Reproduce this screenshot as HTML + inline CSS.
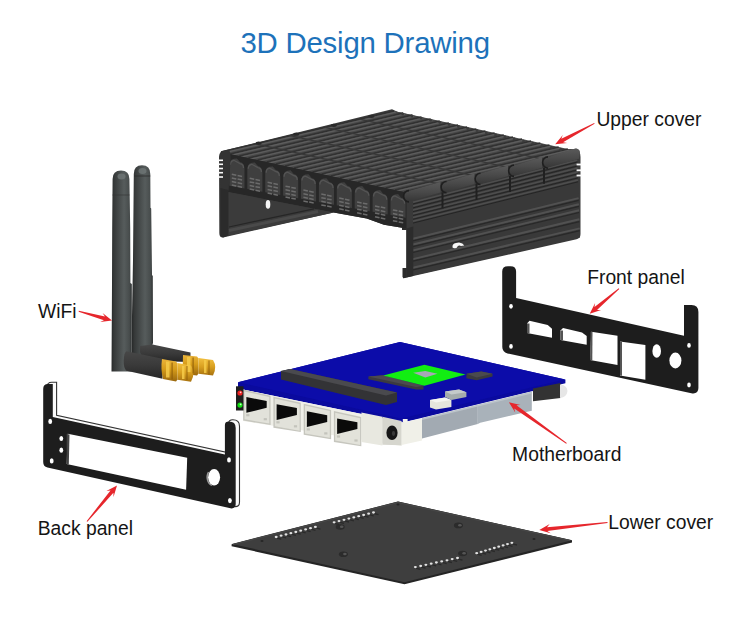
<!DOCTYPE html>
<html><head><meta charset="utf-8"><style>
html,body{margin:0;padding:0;background:#fff;}
body{width:750px;height:631px;overflow:hidden;position:relative;font-family:"Liberation Sans",sans-serif;}
svg{position:absolute;left:0;top:0;}
.t{position:absolute;white-space:nowrap;color:#141414;font-size:19.3px;line-height:1;}
#title{position:absolute;left:240.4px;top:27.9px;font-size:29.4px;letter-spacing:-0.22px;color:#1d72ba;white-space:nowrap;line-height:1;}
</style></head><body>
<svg width="750" height="631" viewBox="0 0 750 631">
<defs>
<linearGradient id="ant" x1="0" x2="1" y1="0" y2="0"><stop offset="0" stop-color="#282a2a"/><stop offset="0.12" stop-color="#363939"/><stop offset="0.62" stop-color="#565c5c"/><stop offset="0.88" stop-color="#474c4c"/><stop offset="1" stop-color="#303333"/></linearGradient>
<linearGradient id="elb" x1="0" x2="0" y1="0" y2="1"><stop offset="0" stop-color="#474747"/><stop offset="0.5" stop-color="#3a3a3a"/><stop offset="1" stop-color="#262626"/></linearGradient>
<linearGradient id="gold" x1="0" x2="0" y1="0" y2="1"><stop offset="0" stop-color="#eab33a"/><stop offset="0.45" stop-color="#d69c1a"/><stop offset="1" stop-color="#9a680e"/></linearGradient>
<linearGradient id="gold2" x1="0" x2="0" y1="0" y2="1"><stop offset="0" stop-color="#f2c040"/><stop offset="0.5" stop-color="#d9a020"/><stop offset="1" stop-color="#a8720f"/></linearGradient>
<linearGradient id="hump" x1="0" x2="0" y1="0" y2="1"><stop offset="0" stop-color="#5a5a5a"/><stop offset="0.5" stop-color="#4a4a4a"/><stop offset="1" stop-color="#363636"/></linearGradient>
</defs>
<g id="upper">
<path d="M219,157 Q219,151 225,150.3 L392,109.3 L398,112 L561,148.8 L575,149.2 Q580.5,150 580.5,157 L580.5,234 Q580.5,238.5 576.5,239.2 L406.5,277.5 L403.5,278.3 L402.7,277 L402.7,268 L406.5,268 L406.5,230 L402,230 L402,227.8 L384,224.7 L366.7,218.6 L333.7,212.5 L223,237.5 Q219.3,237.5 219.3,233 Z" fill="#3a3a3a"/>
<polygon points="221.0,152.0 394.0,111.0 577.0,151.0 404.0,192.0" fill="#484848" />
<line x1="221.0" y1="152.0" x2="394.0" y2="111.0" stroke="#313131" stroke-width="1.5"/>
<line x1="222.8" y1="153.2" x2="395.8" y2="112.2" stroke="#5d5d5d" stroke-width="1.3"/>
<line x1="230.2" y1="154.0" x2="403.1" y2="113.0" stroke="#313131" stroke-width="1.5"/>
<line x1="232.0" y1="155.2" x2="404.9" y2="114.2" stroke="#5d5d5d" stroke-width="1.3"/>
<line x1="239.3" y1="156.0" x2="412.3" y2="115.0" stroke="#313131" stroke-width="1.5"/>
<line x1="241.1" y1="157.2" x2="414.1" y2="116.2" stroke="#5d5d5d" stroke-width="1.3"/>
<line x1="248.4" y1="158.0" x2="421.4" y2="117.0" stroke="#313131" stroke-width="1.5"/>
<line x1="250.2" y1="159.2" x2="423.2" y2="118.2" stroke="#5d5d5d" stroke-width="1.3"/>
<line x1="257.6" y1="160.0" x2="430.6" y2="119.0" stroke="#313131" stroke-width="1.5"/>
<line x1="259.4" y1="161.2" x2="432.4" y2="120.2" stroke="#5d5d5d" stroke-width="1.3"/>
<line x1="266.8" y1="162.0" x2="439.8" y2="121.0" stroke="#313131" stroke-width="1.5"/>
<line x1="268.6" y1="163.2" x2="441.6" y2="122.2" stroke="#5d5d5d" stroke-width="1.3"/>
<line x1="275.9" y1="164.0" x2="448.9" y2="123.0" stroke="#313131" stroke-width="1.5"/>
<line x1="277.7" y1="165.2" x2="450.7" y2="124.2" stroke="#5d5d5d" stroke-width="1.3"/>
<line x1="285.1" y1="166.0" x2="458.1" y2="125.0" stroke="#313131" stroke-width="1.5"/>
<line x1="286.9" y1="167.2" x2="459.9" y2="126.2" stroke="#5d5d5d" stroke-width="1.3"/>
<line x1="294.2" y1="168.0" x2="467.2" y2="127.0" stroke="#313131" stroke-width="1.5"/>
<line x1="296.0" y1="169.2" x2="469.0" y2="128.2" stroke="#5d5d5d" stroke-width="1.3"/>
<line x1="303.4" y1="170.0" x2="476.4" y2="129.0" stroke="#313131" stroke-width="1.5"/>
<line x1="305.2" y1="171.2" x2="478.2" y2="130.2" stroke="#5d5d5d" stroke-width="1.3"/>
<line x1="312.5" y1="172.0" x2="485.5" y2="131.0" stroke="#313131" stroke-width="1.5"/>
<line x1="314.3" y1="173.2" x2="487.3" y2="132.2" stroke="#5d5d5d" stroke-width="1.3"/>
<line x1="321.6" y1="174.0" x2="494.6" y2="133.0" stroke="#313131" stroke-width="1.5"/>
<line x1="323.4" y1="175.2" x2="496.4" y2="134.2" stroke="#5d5d5d" stroke-width="1.3"/>
<line x1="330.8" y1="176.0" x2="503.8" y2="135.0" stroke="#313131" stroke-width="1.5"/>
<line x1="332.6" y1="177.2" x2="505.6" y2="136.2" stroke="#5d5d5d" stroke-width="1.3"/>
<line x1="339.9" y1="178.0" x2="513.0" y2="137.0" stroke="#313131" stroke-width="1.5"/>
<line x1="341.8" y1="179.2" x2="514.8" y2="138.2" stroke="#5d5d5d" stroke-width="1.3"/>
<line x1="349.1" y1="180.0" x2="522.1" y2="139.0" stroke="#313131" stroke-width="1.5"/>
<line x1="350.9" y1="181.2" x2="523.9" y2="140.2" stroke="#5d5d5d" stroke-width="1.3"/>
<line x1="358.2" y1="182.0" x2="531.2" y2="141.0" stroke="#313131" stroke-width="1.5"/>
<line x1="360.1" y1="183.2" x2="533.0" y2="142.2" stroke="#5d5d5d" stroke-width="1.3"/>
<line x1="367.4" y1="184.0" x2="540.4" y2="143.0" stroke="#313131" stroke-width="1.5"/>
<line x1="369.2" y1="185.2" x2="542.2" y2="144.2" stroke="#5d5d5d" stroke-width="1.3"/>
<line x1="376.5" y1="186.0" x2="549.5" y2="145.0" stroke="#313131" stroke-width="1.5"/>
<line x1="378.3" y1="187.2" x2="551.3" y2="146.2" stroke="#5d5d5d" stroke-width="1.3"/>
<line x1="385.7" y1="188.0" x2="558.7" y2="147.0" stroke="#313131" stroke-width="1.5"/>
<line x1="387.5" y1="189.2" x2="560.5" y2="148.2" stroke="#5d5d5d" stroke-width="1.3"/>
<line x1="394.9" y1="190.0" x2="567.9" y2="149.0" stroke="#313131" stroke-width="1.5"/>
<line x1="396.7" y1="191.2" x2="569.6" y2="150.2" stroke="#5d5d5d" stroke-width="1.3"/>
<line x1="404.0" y1="192.0" x2="577.0" y2="151.0" stroke="#313131" stroke-width="1.5"/>
<line x1="405.8" y1="193.2" x2="578.8" y2="152.2" stroke="#5d5d5d" stroke-width="1.3"/>
<circle cx="402.6" cy="113.9" r="1.4" fill="#3c3c3c"/>
<circle cx="411.9" cy="116.0" r="1.4" fill="#3c3c3c"/>
<circle cx="421.2" cy="118.1" r="1.4" fill="#3c3c3c"/>
<circle cx="430.5" cy="120.2" r="1.4" fill="#3c3c3c"/>
<circle cx="439.8" cy="122.3" r="1.4" fill="#3c3c3c"/>
<circle cx="449.1" cy="124.4" r="1.4" fill="#3c3c3c"/>
<circle cx="458.4" cy="126.5" r="1.4" fill="#3c3c3c"/>
<circle cx="467.7" cy="128.6" r="1.4" fill="#3c3c3c"/>
<circle cx="477.0" cy="130.7" r="1.4" fill="#3c3c3c"/>
<circle cx="486.3" cy="132.8" r="1.4" fill="#3c3c3c"/>
<circle cx="495.6" cy="134.9" r="1.4" fill="#3c3c3c"/>
<circle cx="504.9" cy="137.0" r="1.4" fill="#3c3c3c"/>
<circle cx="514.2" cy="139.0" r="1.4" fill="#3c3c3c"/>
<circle cx="523.5" cy="141.1" r="1.4" fill="#3c3c3c"/>
<circle cx="532.8" cy="143.2" r="1.4" fill="#3c3c3c"/>
<circle cx="542.1" cy="145.3" r="1.4" fill="#3c3c3c"/>
<circle cx="551.4" cy="147.4" r="1.4" fill="#3c3c3c"/>
<circle cx="560.7" cy="149.5" r="1.4" fill="#3c3c3c"/>
<line x1="255.6" y1="143.8" x2="438.6" y2="183.8" stroke="#383838" stroke-width="1.2"/>
<line x1="290.2" y1="135.6" x2="473.2" y2="175.6" stroke="#383838" stroke-width="1.2"/>
<line x1="324.8" y1="127.4" x2="507.8" y2="167.4" stroke="#383838" stroke-width="1.2"/>
<line x1="359.4" y1="119.2" x2="542.4" y2="159.2" stroke="#383838" stroke-width="1.2"/>
<ellipse cx="258.6" cy="143.1" rx="3" ry="1.6" fill="#2a2a2a"/>
<ellipse cx="296.2" cy="134.2" rx="3" ry="1.6" fill="#2a2a2a"/>
<ellipse cx="333.8" cy="125.3" rx="3" ry="1.6" fill="#2a2a2a"/>
<ellipse cx="371.4" cy="116.3" rx="3" ry="1.6" fill="#2a2a2a"/>
<polygon points="221.0,152.0 404.0,192.0 407.0,196.0 407.0,228.5 402.0,227.8 384.0,224.7 366.7,218.6 333.7,212.5 228.6,192.0 221.0,191.0" fill="#272727" />
<path d="M229.4,185.8 L229.4,165.8 Q229.4,159.8 233.9,158.8 L236.9,158.5 L240.0,162.1 Q244.5,163.1 244.5,169.1 L244.5,188.5 Z" fill="#3f3f3f"/>
<path d="M230.4,164.8 Q230.4,160.8 233.9,160.3 L240.0,163.6 Q243.5,164.1 243.5,168.1" fill="none" stroke="#545454" stroke-width="1.3"/>
<line x1="231.8" y1="174.3" x2="236.3" y2="175.3" stroke="#6c6c6c" stroke-width="1.5"/>
<line x1="231.8" y1="177.9" x2="236.3" y2="178.9" stroke="#6c6c6c" stroke-width="1.5"/>
<line x1="231.8" y1="181.5" x2="236.3" y2="182.5" stroke="#6c6c6c" stroke-width="1.5"/>
<line x1="231.8" y1="185.1" x2="236.3" y2="186.1" stroke="#6c6c6c" stroke-width="1.5"/>
<line x1="237.6" y1="175.5" x2="242.1" y2="176.5" stroke="#6c6c6c" stroke-width="1.5"/>
<line x1="237.6" y1="179.1" x2="242.1" y2="180.1" stroke="#6c6c6c" stroke-width="1.5"/>
<line x1="237.6" y1="182.7" x2="242.1" y2="183.7" stroke="#6c6c6c" stroke-width="1.5"/>
<line x1="237.6" y1="186.3" x2="242.1" y2="187.3" stroke="#6c6c6c" stroke-width="1.5"/>
<path d="M247.3,189.0 L247.3,169.8 Q247.3,163.8 251.8,162.8 L254.8,162.4 L257.9,166.1 Q262.4,167.1 262.4,173.1 L262.4,191.7 Z" fill="#3f3f3f"/>
<path d="M248.3,168.8 Q248.3,164.8 251.8,164.3 L257.9,167.6 Q261.4,168.1 261.4,172.1" fill="none" stroke="#545454" stroke-width="1.3"/>
<line x1="249.7" y1="178.3" x2="254.2" y2="179.2" stroke="#6c6c6c" stroke-width="1.5"/>
<line x1="249.7" y1="181.9" x2="254.2" y2="182.8" stroke="#6c6c6c" stroke-width="1.5"/>
<line x1="249.7" y1="185.5" x2="254.2" y2="186.4" stroke="#6c6c6c" stroke-width="1.5"/>
<line x1="249.7" y1="189.1" x2="254.2" y2="190.0" stroke="#6c6c6c" stroke-width="1.5"/>
<line x1="255.5" y1="179.5" x2="260.0" y2="180.4" stroke="#6c6c6c" stroke-width="1.5"/>
<line x1="255.5" y1="183.1" x2="260.0" y2="184.0" stroke="#6c6c6c" stroke-width="1.5"/>
<line x1="255.5" y1="186.7" x2="260.0" y2="187.6" stroke="#6c6c6c" stroke-width="1.5"/>
<line x1="255.5" y1="190.3" x2="260.0" y2="191.2" stroke="#6c6c6c" stroke-width="1.5"/>
<path d="M265.2,192.3 L265.2,173.7 Q265.2,167.7 269.7,166.7 L272.8,166.4 L275.8,170.0 Q280.3,171.0 280.3,177.0 L280.3,195.0 Z" fill="#3f3f3f"/>
<path d="M266.2,172.7 Q266.2,168.7 269.7,168.2 L275.8,171.5 Q279.3,172.0 279.3,176.0" fill="none" stroke="#545454" stroke-width="1.3"/>
<line x1="267.6" y1="182.2" x2="272.1" y2="183.2" stroke="#6c6c6c" stroke-width="1.5"/>
<line x1="267.6" y1="185.8" x2="272.1" y2="186.8" stroke="#6c6c6c" stroke-width="1.5"/>
<line x1="267.6" y1="189.4" x2="272.1" y2="190.4" stroke="#6c6c6c" stroke-width="1.5"/>
<line x1="267.6" y1="193.0" x2="272.1" y2="194.0" stroke="#6c6c6c" stroke-width="1.5"/>
<line x1="273.4" y1="183.4" x2="277.9" y2="184.4" stroke="#6c6c6c" stroke-width="1.5"/>
<line x1="273.4" y1="187.0" x2="277.9" y2="188.0" stroke="#6c6c6c" stroke-width="1.5"/>
<line x1="273.4" y1="190.6" x2="277.9" y2="191.6" stroke="#6c6c6c" stroke-width="1.5"/>
<line x1="273.4" y1="194.2" x2="277.9" y2="195.2" stroke="#6c6c6c" stroke-width="1.5"/>
<path d="M283.1,195.5 L283.1,177.7 Q283.1,171.7 287.6,170.7 L290.6,170.3 L293.7,174.0 Q298.2,175.0 298.2,181.0 L298.2,198.2 Z" fill="#3f3f3f"/>
<path d="M284.1,176.7 Q284.1,172.7 287.6,172.2 L293.7,175.5 Q297.2,176.0 297.2,180.0" fill="none" stroke="#545454" stroke-width="1.3"/>
<line x1="285.5" y1="186.2" x2="290.0" y2="187.1" stroke="#6c6c6c" stroke-width="1.5"/>
<line x1="285.5" y1="189.8" x2="290.0" y2="190.7" stroke="#6c6c6c" stroke-width="1.5"/>
<line x1="285.5" y1="193.4" x2="290.0" y2="194.3" stroke="#6c6c6c" stroke-width="1.5"/>
<line x1="285.5" y1="197.0" x2="290.0" y2="197.9" stroke="#6c6c6c" stroke-width="1.5"/>
<line x1="291.3" y1="187.4" x2="295.8" y2="188.3" stroke="#6c6c6c" stroke-width="1.5"/>
<line x1="291.3" y1="191.0" x2="295.8" y2="191.9" stroke="#6c6c6c" stroke-width="1.5"/>
<line x1="291.3" y1="194.6" x2="295.8" y2="195.5" stroke="#6c6c6c" stroke-width="1.5"/>
<line x1="291.3" y1="198.2" x2="295.8" y2="199.1" stroke="#6c6c6c" stroke-width="1.5"/>
<path d="M301.0,198.8 L301.0,181.6 Q301.0,175.6 305.5,174.6 L308.6,174.3 L311.6,177.9 Q316.1,178.9 316.1,184.9 L316.1,201.5 Z" fill="#3f3f3f"/>
<path d="M302.0,180.6 Q302.0,176.6 305.5,176.1 L311.6,179.4 Q315.1,179.9 315.1,183.9" fill="none" stroke="#545454" stroke-width="1.3"/>
<line x1="303.4" y1="190.1" x2="307.9" y2="191.1" stroke="#6c6c6c" stroke-width="1.5"/>
<line x1="303.4" y1="193.7" x2="307.9" y2="194.7" stroke="#6c6c6c" stroke-width="1.5"/>
<line x1="303.4" y1="197.3" x2="307.9" y2="198.3" stroke="#6c6c6c" stroke-width="1.5"/>
<line x1="303.4" y1="200.9" x2="307.9" y2="201.9" stroke="#6c6c6c" stroke-width="1.5"/>
<line x1="309.2" y1="191.3" x2="313.7" y2="192.3" stroke="#6c6c6c" stroke-width="1.5"/>
<line x1="309.2" y1="194.9" x2="313.7" y2="195.9" stroke="#6c6c6c" stroke-width="1.5"/>
<line x1="309.2" y1="198.5" x2="313.7" y2="199.5" stroke="#6c6c6c" stroke-width="1.5"/>
<line x1="309.2" y1="202.1" x2="313.7" y2="203.1" stroke="#6c6c6c" stroke-width="1.5"/>
<path d="M318.9,202.0 L318.9,185.6 Q318.9,179.6 323.4,178.6 L326.4,178.2 L329.5,181.9 Q334.0,182.9 334.0,188.9 L334.0,204.7 Z" fill="#3f3f3f"/>
<path d="M319.9,184.6 Q319.9,180.6 323.4,180.1 L329.5,183.4 Q333.0,183.9 333.0,187.9" fill="none" stroke="#545454" stroke-width="1.3"/>
<line x1="321.3" y1="194.1" x2="325.8" y2="195.0" stroke="#6c6c6c" stroke-width="1.5"/>
<line x1="321.3" y1="197.7" x2="325.8" y2="198.6" stroke="#6c6c6c" stroke-width="1.5"/>
<line x1="321.3" y1="201.3" x2="325.8" y2="202.2" stroke="#6c6c6c" stroke-width="1.5"/>
<line x1="321.3" y1="204.9" x2="325.8" y2="205.8" stroke="#6c6c6c" stroke-width="1.5"/>
<line x1="327.1" y1="195.3" x2="331.6" y2="196.2" stroke="#6c6c6c" stroke-width="1.5"/>
<line x1="327.1" y1="198.9" x2="331.6" y2="199.8" stroke="#6c6c6c" stroke-width="1.5"/>
<line x1="327.1" y1="202.5" x2="331.6" y2="203.4" stroke="#6c6c6c" stroke-width="1.5"/>
<line x1="327.1" y1="206.1" x2="331.6" y2="207.0" stroke="#6c6c6c" stroke-width="1.5"/>
<path d="M336.8,205.3 L336.8,189.5 Q336.8,183.5 341.3,182.5 L344.4,182.2 L347.4,185.8 Q351.9,186.8 351.9,192.8 L351.9,208.0 Z" fill="#3f3f3f"/>
<path d="M337.8,188.5 Q337.8,184.5 341.3,184.0 L347.4,187.3 Q350.9,187.8 350.9,191.8" fill="none" stroke="#545454" stroke-width="1.3"/>
<line x1="339.2" y1="198.0" x2="343.7" y2="199.0" stroke="#6c6c6c" stroke-width="1.5"/>
<line x1="339.2" y1="201.6" x2="343.7" y2="202.6" stroke="#6c6c6c" stroke-width="1.5"/>
<line x1="339.2" y1="205.2" x2="343.7" y2="206.2" stroke="#6c6c6c" stroke-width="1.5"/>
<line x1="339.2" y1="208.8" x2="343.7" y2="209.8" stroke="#6c6c6c" stroke-width="1.5"/>
<line x1="345.0" y1="199.2" x2="349.5" y2="200.2" stroke="#6c6c6c" stroke-width="1.5"/>
<line x1="345.0" y1="202.8" x2="349.5" y2="203.8" stroke="#6c6c6c" stroke-width="1.5"/>
<line x1="345.0" y1="206.4" x2="349.5" y2="207.4" stroke="#6c6c6c" stroke-width="1.5"/>
<line x1="345.0" y1="210.0" x2="349.5" y2="211.0" stroke="#6c6c6c" stroke-width="1.5"/>
<path d="M354.7,208.5 L354.7,193.5 Q354.7,187.5 359.2,186.5 L362.2,186.1 L365.3,189.8 Q369.8,190.8 369.8,196.8 L369.8,211.2 Z" fill="#3f3f3f"/>
<path d="M355.7,192.5 Q355.7,188.5 359.2,188.0 L365.3,191.3 Q368.8,191.8 368.8,195.8" fill="none" stroke="#545454" stroke-width="1.3"/>
<line x1="357.1" y1="202.0" x2="361.6" y2="202.9" stroke="#6c6c6c" stroke-width="1.5"/>
<line x1="357.1" y1="205.6" x2="361.6" y2="206.5" stroke="#6c6c6c" stroke-width="1.5"/>
<line x1="357.1" y1="209.2" x2="361.6" y2="210.1" stroke="#6c6c6c" stroke-width="1.5"/>
<line x1="357.1" y1="212.8" x2="361.6" y2="213.7" stroke="#6c6c6c" stroke-width="1.5"/>
<line x1="362.9" y1="203.2" x2="367.4" y2="204.1" stroke="#6c6c6c" stroke-width="1.5"/>
<line x1="362.9" y1="206.8" x2="367.4" y2="207.7" stroke="#6c6c6c" stroke-width="1.5"/>
<line x1="362.9" y1="210.4" x2="367.4" y2="211.3" stroke="#6c6c6c" stroke-width="1.5"/>
<line x1="362.9" y1="214.0" x2="367.4" y2="214.9" stroke="#6c6c6c" stroke-width="1.5"/>
<path d="M372.6,211.8 L372.6,197.4 Q372.6,191.4 377.1,190.4 L380.1,190.1 L383.2,193.7 Q387.7,194.7 387.7,200.7 L387.7,214.5 Z" fill="#3f3f3f"/>
<path d="M373.6,196.4 Q373.6,192.4 377.1,191.9 L383.2,195.2 Q386.7,195.7 386.7,199.7" fill="none" stroke="#545454" stroke-width="1.3"/>
<line x1="375.0" y1="205.9" x2="379.5" y2="206.9" stroke="#6c6c6c" stroke-width="1.5"/>
<line x1="375.0" y1="209.5" x2="379.5" y2="210.5" stroke="#6c6c6c" stroke-width="1.5"/>
<line x1="375.0" y1="213.1" x2="379.5" y2="214.1" stroke="#6c6c6c" stroke-width="1.5"/>
<line x1="375.0" y1="216.7" x2="379.5" y2="217.7" stroke="#6c6c6c" stroke-width="1.5"/>
<line x1="380.8" y1="207.1" x2="385.3" y2="208.1" stroke="#6c6c6c" stroke-width="1.5"/>
<line x1="380.8" y1="210.7" x2="385.3" y2="211.7" stroke="#6c6c6c" stroke-width="1.5"/>
<line x1="380.8" y1="214.3" x2="385.3" y2="215.3" stroke="#6c6c6c" stroke-width="1.5"/>
<line x1="380.8" y1="217.9" x2="385.3" y2="218.9" stroke="#6c6c6c" stroke-width="1.5"/>
<path d="M390.5,215.0 L390.5,201.4 Q390.5,195.4 395.0,194.4 L398.1,194.0 L401.1,197.7 Q405.6,198.7 405.6,204.7 L405.6,217.7 Z" fill="#3f3f3f"/>
<path d="M391.5,200.4 Q391.5,196.4 395.0,195.9 L401.1,199.2 Q404.6,199.7 404.6,203.7" fill="none" stroke="#545454" stroke-width="1.3"/>
<line x1="392.9" y1="209.9" x2="397.4" y2="210.8" stroke="#6c6c6c" stroke-width="1.5"/>
<line x1="392.9" y1="213.5" x2="397.4" y2="214.4" stroke="#6c6c6c" stroke-width="1.5"/>
<line x1="392.9" y1="217.1" x2="397.4" y2="218.0" stroke="#6c6c6c" stroke-width="1.5"/>
<line x1="392.9" y1="220.7" x2="397.4" y2="221.6" stroke="#6c6c6c" stroke-width="1.5"/>
<line x1="398.7" y1="211.1" x2="403.2" y2="212.0" stroke="#6c6c6c" stroke-width="1.5"/>
<line x1="398.7" y1="214.7" x2="403.2" y2="215.6" stroke="#6c6c6c" stroke-width="1.5"/>
<line x1="398.7" y1="218.3" x2="403.2" y2="219.2" stroke="#6c6c6c" stroke-width="1.5"/>
<line x1="398.7" y1="221.9" x2="403.2" y2="222.8" stroke="#6c6c6c" stroke-width="1.5"/>
<path d="M219.5,158 Q219.5,151.5 225,150.8 L229,150 Q231,153 230.5,160 L228.6,191 L220.3,189 Z" fill="#333"/>
<rect x="218.5" y="159.5" width="4.5" height="1.6" fill="#fafafa"/>
<rect x="218.5" y="163.5" width="4.5" height="1.6" fill="#fafafa"/>
<rect x="218.5" y="167.7" width="4.5" height="1.6" fill="#fafafa"/>
<rect x="218.5" y="171.9" width="4.5" height="1.6" fill="#fafafa"/>
<rect x="218.5" y="176.2" width="4.5" height="1.6" fill="#fafafa"/>
<polygon points="220.3,188.0 228.6,190.0 228.6,235.5 223.0,237.5 220.3,236.0" fill="#2b2b2b" />
<polygon points="228.6,192.3 333.7,212.5 228.6,235.5" fill="#3b3b3b" />
<line x1="229.0" y1="230.5" x2="318.0" y2="211.5" stroke="#4a4a4a" stroke-width="3"/>
<line x1="229.0" y1="227.0" x2="314.0" y2="208.8" stroke="#262626" stroke-width="1.2"/>
<ellipse cx="268" cy="204.4" rx="2.3" ry="4.4" fill="#f4f4f4"/>
<polygon points="406.5,192.0 577.0,151.0 580.0,237.5 406.5,277.0" fill="#393939" />
<line x1="413.0" y1="202.3" x2="577.3" y2="160.2" stroke="#4e4e4e" stroke-width="1.5"/>
<line x1="413.0" y1="204.0" x2="577.4" y2="162.0" stroke="#242424" stroke-width="1.0"/>
<line x1="413.0" y1="206.1" x2="577.5" y2="164.1" stroke="#4e4e4e" stroke-width="1.5"/>
<line x1="413.0" y1="207.9" x2="577.5" y2="166.0" stroke="#242424" stroke-width="1.0"/>
<line x1="413.0" y1="209.9" x2="577.6" y2="168.1" stroke="#4e4e4e" stroke-width="1.5"/>
<line x1="413.0" y1="211.7" x2="577.7" y2="169.9" stroke="#242424" stroke-width="1.0"/>
<line x1="413.0" y1="213.7" x2="577.7" y2="172.1" stroke="#4e4e4e" stroke-width="1.5"/>
<line x1="413.0" y1="215.5" x2="577.8" y2="173.9" stroke="#242424" stroke-width="1.0"/>
<line x1="413.0" y1="217.5" x2="577.9" y2="176.0" stroke="#4e4e4e" stroke-width="1.5"/>
<line x1="413.0" y1="219.3" x2="577.9" y2="177.9" stroke="#242424" stroke-width="1.0"/>
<line x1="413.0" y1="221.3" x2="578.0" y2="180.0" stroke="#4e4e4e" stroke-width="1.5"/>
<line x1="413.0" y1="223.1" x2="578.1" y2="181.8" stroke="#242424" stroke-width="1.0"/>
<line x1="413.0" y1="238.7" x2="578.6" y2="198.1" stroke="#515151" stroke-width="2.0"/>
<line x1="413.0" y1="240.9" x2="578.7" y2="200.4" stroke="#282828" stroke-width="1.2"/>
<line x1="413.0" y1="244.5" x2="578.8" y2="204.2" stroke="#515151" stroke-width="2.0"/>
<line x1="413.0" y1="246.7" x2="578.9" y2="206.4" stroke="#282828" stroke-width="1.2"/>
<line x1="413.0" y1="250.4" x2="579.1" y2="210.3" stroke="#515151" stroke-width="2.0"/>
<line x1="413.0" y1="252.5" x2="579.1" y2="212.5" stroke="#282828" stroke-width="1.2"/>
<line x1="413.0" y1="259.1" x2="579.4" y2="219.3" stroke="#515151" stroke-width="2.0"/>
<line x1="413.0" y1="261.2" x2="579.4" y2="221.6" stroke="#282828" stroke-width="1.2"/>
<line x1="413.0" y1="267.8" x2="579.7" y2="228.4" stroke="#515151" stroke-width="2.0"/>
<line x1="413.0" y1="269.9" x2="579.8" y2="230.7" stroke="#282828" stroke-width="1.2"/>
<polygon points="406.5,228.5 413.3,226.5 413.3,276.0 406.5,277.5" fill="#2c2c2c" />
<polygon points="402.0,227.8 406.5,228.5 406.5,230.0 402.0,230.0" fill="#2c2c2c" />
<polygon points="402.7,268.0 406.5,268.0 406.5,277.5 403.5,278.3 402.7,277.0" fill="#2c2c2c" />
<path d="M408.5,190.9 L440.5,181.9 Q440.5,181.9 440.5,185.9 L440.5,192.4 L408.5,201.4 A5,5.25 0 0 1 408.5,190.9 Z" fill="url(#hump)"/>
<path d="M409.0,201.9 A5,5.25 0 0 1 409.0,190.6" fill="none" stroke="#1f1f1f" stroke-width="1.6"/>
<path d="M446.0,181.8 L474.5,173.6 Q474.5,173.6 474.5,177.6 L474.5,184.1 L446.0,192.3 A5,5.25 0 0 1 446.0,181.8 Z" fill="url(#hump)"/>
<path d="M446.5,192.8 A5,5.25 0 0 1 446.5,181.5" fill="none" stroke="#1f1f1f" stroke-width="1.6"/>
<line x1="442.5" y1="192.3" x2="442.5" y2="208.3" stroke="#202020" stroke-width="2.0"/>
<path d="M480.0,173.5 L508.0,165.5 Q508.0,165.5 508.0,169.5 L508.0,176.0 L480.0,184.0 A5,5.25 0 0 1 480.0,173.5 Z" fill="url(#hump)"/>
<path d="M480.5,184.5 A5,5.25 0 0 1 480.5,173.2" fill="none" stroke="#1f1f1f" stroke-width="1.6"/>
<line x1="476.5" y1="184.0" x2="476.5" y2="200.0" stroke="#202020" stroke-width="2.0"/>
<path d="M513.5,165.4 L542.0,157.3 Q542.0,157.3 542.0,161.3 L542.0,167.8 L513.5,175.9 A5,5.25 0 0 1 513.5,165.4 Z" fill="url(#hump)"/>
<path d="M514.0,176.4 A5,5.25 0 0 1 514.0,165.1" fill="none" stroke="#1f1f1f" stroke-width="1.6"/>
<line x1="510.0" y1="175.9" x2="510.0" y2="191.9" stroke="#202020" stroke-width="2.0"/>
<path d="M547.5,157.2 L576.0,148.3 Q580.0,149.3 580.0,152.3 L579.0,158.8 L547.5,167.7 A5,5.25 0 0 1 547.5,157.2 Z" fill="url(#hump)"/>
<path d="M548.0,168.2 A5,5.25 0 0 1 548.0,156.9" fill="none" stroke="#1f1f1f" stroke-width="1.6"/>
<line x1="544.0" y1="167.7" x2="544.0" y2="183.7" stroke="#202020" stroke-width="2.0"/>
<rect x="576.6" y="163.6" width="5" height="1.8" fill="#fafafa"/>
<rect x="576.6" y="169.4" width="5" height="1.8" fill="#fafafa"/>
<rect x="576.6" y="174.6" width="5" height="1.8" fill="#fafafa"/>
<path d="M452.5,247.5 Q452,243.5 456,243 L459,242.5 Q463,243 464.3,245.5 L461,246 Q459,245 457.5,246.5 L456.5,248 Q453.5,248.5 452.5,247.5 Z" fill="#f6f6f6"/>
</g>
<g id="antennas">
<path d="M133.8,174 Q133.8,165.2 142,165.2 Q150.3,165.2 150.3,174 L150.5,207.8 L151.2,208.5 L152,275 L152.8,276 L153,343 Q152,347 150,348 L141,356 L132,356 L132,316 L133,260 Z" fill="url(#ant)"/>
<path d="M140,346 L152.5,344.5 L190.5,352.6 L190.5,362 L152,361 Q141,358 140,352 Z" fill="url(#elb)"/>
<path d="M112.6,179 Q112.6,170.5 121,170.5 Q129.4,170.5 129.4,179 L130.2,228 L130.4,283 L131.8,284 L131.8,371.5 L111.5,371.5 L112,284 L112.2,229 Z" fill="url(#ant)"/>
<ellipse cx="121.5" cy="176.5" rx="4" ry="3" fill="#6f7777" opacity="0.8"/>
<ellipse cx="142.5" cy="171" rx="4" ry="3" fill="#6f7777" opacity="0.8"/>
<line x1="112.5" y1="195" x2="129.6" y2="195" stroke="#333" stroke-width="0.6"/>
<line x1="134" y1="176" x2="150.3" y2="176" stroke="#2b2b2b" stroke-width="0.8"/>
<path d="M126.5,351.3 L162.5,358.8 L162.5,378.8 L126.5,370.8 Q123.5,368 123.7,361 Q124,352.3 126.5,351.3 Z" fill="url(#elb)"/>
<path d="M183,355 L197,356.5 L198.5,358.5 L198.5,373.5 L197,375.5 L184,374 Q182,365 183,355 Z" fill="url(#gold)"/>
<path d="M198.5,358 L213,360 Q217.5,367 213,375.5 L198.5,373.8 Z" fill="url(#gold2)"/>
<path d="M162,359 L176,361.5 L177.5,363.5 L177.5,379.5 L176,381.5 L163,379 Q160.5,369 162,359 Z" fill="url(#gold)"/>
<path d="M177.5,363 L191,365.5 Q196,373 191,381.8 L177.5,379.8 Z" fill="url(#gold2)"/>
<g fill="#f6cc4a" opacity="0.85"><rect x="166" y="361.5" width="3.5" height="16"/><rect x="187" y="357" width="3.5" height="15"/><rect x="182" y="366" width="2.5" height="13"/><rect x="204" y="360" width="2.5" height="13"/></g>
<g fill="#8a5a08" opacity="0.8"><rect x="171.5" y="362.5" width="1.2" height="17"/><rect x="192.5" y="357.5" width="1.2" height="16"/><rect x="186.5" y="366" width="1" height="14"/><rect x="208.5" y="360.5" width="1" height="14"/></g>
</g>
<g id="front">
<path d="M502.2,271.5 Q502.2,266.3 508,266.3 L510.5,266.3 Q516.1,266.3 516.1,271.5 L516.1,298 L684,335.8 L684,305 L691.5,305 Q698.4,305 698.4,312 L698.4,388 Q698.4,393.8 692.5,393.4 L507.5,353.4 Q502.3,352 502.3,347 Z" fill="#1d1d1d"/>
<g fill="#fff">
<ellipse cx="511" cy="306.3" rx="1.8" ry="2.4"/><ellipse cx="511" cy="346.4" rx="1.8" ry="2.4"/>
<ellipse cx="689" cy="345.4" rx="1.8" ry="2.4"/><ellipse cx="689" cy="385" rx="1.8" ry="2.4"/>
<polygon points="529.5,320.7 547.7,325 552,328.7 552,337.7 527,333 527,323.5"/>
<polygon points="563,328.1 582,332.4 586.7,336.1 586.7,344.7 560.5,339.9 560.5,330.5"/>
<polygon points="591.3,331.8 617.5,335.7 617.5,365 590,360"/>
<polygon points="620,341.4 645.4,344.9 645.4,379.7 620,375.4"/>
<ellipse cx="656.7" cy="351" rx="4.3" ry="6.8"/><ellipse cx="675.4" cy="360.5" rx="6" ry="7.9"/>
</g>
<g fill="#555">
<polygon points="527,323.5 529.5,323.5 529.5,333.3 527,333"/>
<polygon points="560.5,330.5 563,330.5 563,340.3 560.5,339.9"/>
<polygon points="590.6,332 592.5,332 592.3,360.5 590,360"/>
<polygon points="620,341.4 622,341.6 622,375.8 620,375.4"/>
</g>
</g>
<g id="back">
<path d="M43.2,389 Q43.2,384 48,384 L52.8,384 L52.8,417 L224.9,454.5 L224.9,425 Q224.9,421.6 229,421.6 Q235.7,421.6 235.7,428 L235.7,504 Q235.7,509 230.5,508.3 L47.5,467.6 Q43.2,466.6 43.2,462 Z" transform="translate(3.8,-1.8)" fill="#fafafa" stroke="#333" stroke-width="1.1"/>
<path d="M43.2,389 Q43.2,384 48,384 L52.8,384 L52.8,417 L224.9,454.5 L224.9,425 Q224.9,421.6 229,421.6 Q235.7,421.6 235.7,428 L235.7,504 Q235.7,509 230.5,508.3 L47.5,467.6 Q43.2,466.6 43.2,462 Z" fill="#1d1d1d"/>
<g fill="#fff">
<polygon points="67.7,433.8 187.2,457.7 186.1,489.7 66.7,464.1"/>
<ellipse cx="214.1" cy="477.3" rx="6" ry="8.3"/>
<ellipse cx="50.2" cy="421.4" rx="1.9" ry="2.6"/>
<ellipse cx="51.7" cy="460.9" rx="1.9" ry="2.6"/>
<ellipse cx="61.3" cy="438.5" rx="1.9" ry="2.6"/>
<ellipse cx="61.3" cy="450.2" rx="1.9" ry="2.6"/>
<ellipse cx="229" cy="459.9" rx="1.9" ry="2.6"/>
<ellipse cx="229.9" cy="500.6" rx="1.9" ry="2.6"/>
</g>
<polygon points="66.7,434 69.5,434.4 68.8,464.5 66.7,464.1" fill="#444"/>
<path d="M208.5,472 A6,8.3 0 0 0 212,485.3" fill="none" stroke="#999" stroke-width="1.5"/>
</g>
<g id="mb">
<polygon points="238.0,382.2 400.0,342.0 565.4,379.6 565.4,383.2 402.8,422.5 243.0,389.5 238.0,389.0" fill="#0a0a9e" />
<polygon points="238.0,382.2 400.0,342.0 565.0,379.6 401.0,418.5" fill="#0c0ca9" />
<polygon points="281.0,371.0 290.0,369.0 397.0,392.5 397.0,402.0 386.0,405.0 281.0,379.5" fill="#333336" />
<polygon points="281.0,371.0 290.0,369.0 397.0,392.5 386.0,395.5" fill="#4a4a4e" />
<polygon points="368.4,376.5 383.3,375.2 423.5,385.8 423.5,389.5 416.0,389.5 368.4,379.3" fill="#3c3a40" />
<polygon points="368.4,376.5 383.3,375.2 423.5,385.8 416.0,387.0" fill="#4c4a50" />
<polygon points="383.3,375.5 424.4,364.7 465.5,374.6 424.4,385.8" fill="#12ee12" />
<polygon points="413.2,372.7 425.3,370.9 437.5,373.7 425.3,377.4" fill="#a8a8b6" />
<polygon points="466.4,373.7 481.3,371.4 492.5,373.7 492.5,376.5 476.7,380.2 466.4,378.3" fill="#3a3a3e" />
<polygon points="466.4,373.7 481.3,371.4 492.5,373.7 476.7,377.5" fill="#4a4a4e" />
<polygon points="430.0,400.0 445.0,397.6 451.4,400.0 451.4,407.0 436.0,409.6 430.0,407.5" fill="#e6e6dc" />
<polygon points="430.0,400.0 445.0,397.6 451.4,400.0 436.0,402.5" fill="#f6f6f0" />
<polygon points="445.0,391.4 459.0,389.5 466.4,392.3 466.4,397.0 451.5,400.0 445.0,397.0" fill="#a4acac" />
<polygon points="445.0,391.4 459.0,389.5 466.4,392.3 451.5,394.5" fill="#c4caca" />
<polygon points="422.0,418.4 477.8,405.0 477.8,424.0 422.0,438.5" fill="#a2aab2" />
<polygon points="477.8,405.0 531.8,392.0 531.8,410.8 480.2,422.8 477.8,424.0" fill="#a9b2ba" />
<polygon points="422.0,418.2 531.8,391.6 531.8,393.4 422.0,420.0" fill="#bcc4ca" />
<polygon points="533.0,388.5 560.6,383.0 560.6,398.0 533.0,401.2" fill="#333" />
<path d="M560,384.5 Q567,385 567.5,391 Q567,397 560,398 Z" fill="#e6e6e6"/>
<polygon points="243.0,389.5 402.8,422.5 401.6,446.0 243.0,421.0" fill="#efefe8" />
<polygon points="243.2,389.6 270.6,395.7 270.6,425.0 243.2,420.6" fill="#c6c6be" />
<polygon points="244.5,391.4 269.3,396.9 269.3,423.6 244.5,419.2" fill="#e2e2da" />
<polygon points="246.4,397.1 266.7,401.0 266.7,407.8 246.4,412.8" fill="#0a0a0a" />
<rect x="246.2" y="414.1" width="3.2" height="2.2" fill="#c4c4bc"/>
<rect x="263.7" y="418.1" width="3.2" height="2.2" fill="#c4c4bc"/>
<polygon points="273.4,396.7 300.8,402.8 300.8,432.1 273.4,427.7" fill="#c6c6be" />
<polygon points="274.8,398.5 299.6,404.0 299.6,430.7 274.8,426.3" fill="#e2e2da" />
<polygon points="276.6,404.2 296.9,408.1 296.9,414.9 276.6,419.9" fill="#0a0a0a" />
<rect x="276.4" y="421.2" width="3.2" height="2.2" fill="#c4c4bc"/>
<rect x="293.9" y="425.2" width="3.2" height="2.2" fill="#c4c4bc"/>
<polygon points="303.7,403.8 331.1,409.9 331.1,439.2 303.7,434.8" fill="#c6c6be" />
<polygon points="305.0,405.6 329.8,411.1 329.8,437.8 305.0,433.4" fill="#e2e2da" />
<polygon points="306.9,411.3 327.2,415.2 327.2,422.0 306.9,427.0" fill="#0a0a0a" />
<rect x="306.7" y="428.3" width="3.2" height="2.2" fill="#c4c4bc"/>
<rect x="324.2" y="432.3" width="3.2" height="2.2" fill="#c4c4bc"/>
<polygon points="333.9,410.9 361.3,417.0 361.3,446.3 333.9,441.9" fill="#c6c6be" />
<polygon points="335.2,412.7 360.1,418.2 360.1,444.9 335.2,440.5" fill="#e2e2da" />
<polygon points="337.1,418.4 357.4,422.3 357.4,429.1 337.1,434.1" fill="#0a0a0a" />
<rect x="336.9" y="435.4" width="3.2" height="2.2" fill="#c4c4bc"/>
<rect x="354.4" y="439.4" width="3.2" height="2.2" fill="#c4c4bc"/>
<polygon points="361.4,412.4 382.4,416.8 382.4,445.4 361.4,442.0" fill="#e8e8e0" />
<polygon points="382.4,416.8 401.6,421.0 401.6,445.2 382.4,444.8" fill="#d6d6ce" />
<ellipse cx="392" cy="432.8" rx="5.6" ry="7.2" fill="#161616"/>
<ellipse cx="393.5" cy="433.5" rx="1.6" ry="2.4" fill="#3a3a3a"/>
<polygon points="401.6,422.5 422.0,418.4 422.0,440.5 401.6,445.0" fill="#f0f0e8" />
<rect x="402.8" y="419" width="4.8" height="3.2" fill="#f4f4ee"/>
<rect x="236" y="386.3" width="7.5" height="24.2" fill="#1e1e1e"/>
<circle cx="240" cy="393" r="2.6" fill="#e22"/><circle cx="240" cy="405.1" r="2.6" fill="#1d1"/>
<circle cx="240.6" cy="392.3" r="0.9" fill="#fcc"/><circle cx="240.6" cy="404.4" r="0.9" fill="#cfc"/>
</g>
<g id="lower">
<polygon points="231.6,544.3 398.0,501.5 572.0,540.3 572.0,542.5 404.5,584.3 231.6,546.2" fill="#252525" />
<polygon points="232.0,544.0 398.0,501.5 572.0,540.3 404.5,582.3" fill="#3e3e3e" />
<line x1="233.0" y1="544.6" x2="398.0" y2="502.6" stroke="#4a4a4a" stroke-width="0.9"/>
<line x1="398.0" y1="502.6" x2="570.0" y2="540.6" stroke="#4a4a4a" stroke-width="0.9"/>
<line x1="276.7" y1="538.0" x2="281.2" y2="539.2" stroke="#2a2a2a" stroke-width="1.3"/>
<ellipse cx="276.2" cy="537.0" rx="1.5" ry="1.15" fill="#e2e2e2"/>
<line x1="281.6" y1="536.7" x2="286.1" y2="537.9" stroke="#2a2a2a" stroke-width="1.3"/>
<ellipse cx="281.1" cy="535.7" rx="1.5" ry="1.15" fill="#e2e2e2"/>
<line x1="286.5" y1="535.5" x2="291.0" y2="536.7" stroke="#2a2a2a" stroke-width="1.3"/>
<ellipse cx="286.0" cy="534.5" rx="1.5" ry="1.15" fill="#e2e2e2"/>
<line x1="291.4" y1="534.2" x2="295.9" y2="535.4" stroke="#2a2a2a" stroke-width="1.3"/>
<ellipse cx="290.9" cy="533.2" rx="1.5" ry="1.15" fill="#e2e2e2"/>
<line x1="296.3" y1="533.0" x2="300.8" y2="534.2" stroke="#2a2a2a" stroke-width="1.3"/>
<ellipse cx="295.8" cy="532.0" rx="1.5" ry="1.15" fill="#e2e2e2"/>
<line x1="301.2" y1="531.7" x2="305.7" y2="532.9" stroke="#2a2a2a" stroke-width="1.3"/>
<ellipse cx="300.7" cy="530.7" rx="1.5" ry="1.15" fill="#e2e2e2"/>
<line x1="306.1" y1="530.4" x2="310.6" y2="531.6" stroke="#2a2a2a" stroke-width="1.3"/>
<ellipse cx="305.6" cy="529.4" rx="1.5" ry="1.15" fill="#e2e2e2"/>
<line x1="311.0" y1="529.2" x2="315.5" y2="530.4" stroke="#2a2a2a" stroke-width="1.3"/>
<ellipse cx="310.5" cy="528.2" rx="1.5" ry="1.15" fill="#e2e2e2"/>
<line x1="315.9" y1="527.9" x2="320.4" y2="529.1" stroke="#2a2a2a" stroke-width="1.3"/>
<ellipse cx="315.4" cy="526.9" rx="1.5" ry="1.15" fill="#e2e2e2"/>
<line x1="334.6" y1="523.3" x2="339.1" y2="524.5" stroke="#2a2a2a" stroke-width="1.3"/>
<ellipse cx="334.1" cy="522.3" rx="1.5" ry="1.15" fill="#e2e2e2"/>
<line x1="339.5" y1="522.1" x2="344.0" y2="523.3" stroke="#2a2a2a" stroke-width="1.3"/>
<ellipse cx="339.0" cy="521.1" rx="1.5" ry="1.15" fill="#e2e2e2"/>
<line x1="344.5" y1="520.8" x2="349.0" y2="522.0" stroke="#2a2a2a" stroke-width="1.3"/>
<ellipse cx="344.0" cy="519.8" rx="1.5" ry="1.15" fill="#e2e2e2"/>
<line x1="349.4" y1="519.6" x2="353.9" y2="520.8" stroke="#2a2a2a" stroke-width="1.3"/>
<ellipse cx="348.9" cy="518.6" rx="1.5" ry="1.15" fill="#e2e2e2"/>
<line x1="354.3" y1="518.4" x2="358.8" y2="519.6" stroke="#2a2a2a" stroke-width="1.3"/>
<ellipse cx="353.8" cy="517.4" rx="1.5" ry="1.15" fill="#e2e2e2"/>
<line x1="359.2" y1="517.2" x2="363.7" y2="518.4" stroke="#2a2a2a" stroke-width="1.3"/>
<ellipse cx="358.7" cy="516.2" rx="1.5" ry="1.15" fill="#e2e2e2"/>
<line x1="364.1" y1="516.0" x2="368.6" y2="517.2" stroke="#2a2a2a" stroke-width="1.3"/>
<ellipse cx="363.6" cy="515.0" rx="1.5" ry="1.15" fill="#e2e2e2"/>
<line x1="369.1" y1="514.7" x2="373.6" y2="515.9" stroke="#2a2a2a" stroke-width="1.3"/>
<ellipse cx="368.6" cy="513.7" rx="1.5" ry="1.15" fill="#e2e2e2"/>
<line x1="374.0" y1="513.5" x2="378.5" y2="514.7" stroke="#2a2a2a" stroke-width="1.3"/>
<ellipse cx="373.5" cy="512.5" rx="1.5" ry="1.15" fill="#e2e2e2"/>
<line x1="415.9" y1="568.1" x2="420.4" y2="569.3" stroke="#2a2a2a" stroke-width="1.3"/>
<ellipse cx="415.4" cy="567.1" rx="1.5" ry="1.15" fill="#e2e2e2"/>
<line x1="421.2" y1="567.0" x2="425.7" y2="568.2" stroke="#2a2a2a" stroke-width="1.3"/>
<ellipse cx="420.7" cy="566.0" rx="1.5" ry="1.15" fill="#e2e2e2"/>
<line x1="426.4" y1="565.8" x2="430.9" y2="567.0" stroke="#2a2a2a" stroke-width="1.3"/>
<ellipse cx="425.9" cy="564.8" rx="1.5" ry="1.15" fill="#e2e2e2"/>
<line x1="431.7" y1="564.7" x2="436.2" y2="565.9" stroke="#2a2a2a" stroke-width="1.3"/>
<ellipse cx="431.2" cy="563.7" rx="1.5" ry="1.15" fill="#e2e2e2"/>
<line x1="436.9" y1="563.5" x2="441.4" y2="564.8" stroke="#2a2a2a" stroke-width="1.3"/>
<ellipse cx="436.4" cy="562.5" rx="1.5" ry="1.15" fill="#e2e2e2"/>
<line x1="442.2" y1="562.4" x2="446.7" y2="563.6" stroke="#2a2a2a" stroke-width="1.3"/>
<ellipse cx="441.7" cy="561.4" rx="1.5" ry="1.15" fill="#e2e2e2"/>
<line x1="447.5" y1="561.3" x2="452.0" y2="562.5" stroke="#2a2a2a" stroke-width="1.3"/>
<ellipse cx="447.0" cy="560.3" rx="1.5" ry="1.15" fill="#e2e2e2"/>
<line x1="452.7" y1="560.1" x2="457.2" y2="561.3" stroke="#2a2a2a" stroke-width="1.3"/>
<ellipse cx="452.2" cy="559.1" rx="1.5" ry="1.15" fill="#e2e2e2"/>
<line x1="458.0" y1="559.0" x2="462.5" y2="560.2" stroke="#2a2a2a" stroke-width="1.3"/>
<ellipse cx="457.5" cy="558.0" rx="1.5" ry="1.15" fill="#e2e2e2"/>
<line x1="477.2" y1="554.2" x2="481.7" y2="555.4" stroke="#2a2a2a" stroke-width="1.3"/>
<ellipse cx="476.7" cy="553.2" rx="1.5" ry="1.15" fill="#e2e2e2"/>
<line x1="481.6" y1="552.9" x2="486.1" y2="554.1" stroke="#2a2a2a" stroke-width="1.3"/>
<ellipse cx="481.1" cy="551.9" rx="1.5" ry="1.15" fill="#e2e2e2"/>
<line x1="486.0" y1="551.6" x2="490.5" y2="552.8" stroke="#2a2a2a" stroke-width="1.3"/>
<ellipse cx="485.5" cy="550.6" rx="1.5" ry="1.15" fill="#e2e2e2"/>
<line x1="490.4" y1="550.3" x2="494.9" y2="551.5" stroke="#2a2a2a" stroke-width="1.3"/>
<ellipse cx="489.9" cy="549.3" rx="1.5" ry="1.15" fill="#e2e2e2"/>
<line x1="494.8" y1="549.0" x2="499.3" y2="550.2" stroke="#2a2a2a" stroke-width="1.3"/>
<ellipse cx="494.3" cy="548.0" rx="1.5" ry="1.15" fill="#e2e2e2"/>
<line x1="499.2" y1="547.7" x2="503.7" y2="548.9" stroke="#2a2a2a" stroke-width="1.3"/>
<ellipse cx="498.7" cy="546.7" rx="1.5" ry="1.15" fill="#e2e2e2"/>
<line x1="503.6" y1="546.4" x2="508.1" y2="547.6" stroke="#2a2a2a" stroke-width="1.3"/>
<ellipse cx="503.1" cy="545.4" rx="1.5" ry="1.15" fill="#e2e2e2"/>
<line x1="508.0" y1="545.1" x2="512.5" y2="546.3" stroke="#2a2a2a" stroke-width="1.3"/>
<ellipse cx="507.5" cy="544.1" rx="1.5" ry="1.15" fill="#e2e2e2"/>
<line x1="512.4" y1="543.8" x2="516.9" y2="545.0" stroke="#2a2a2a" stroke-width="1.3"/>
<ellipse cx="511.9" cy="542.8" rx="1.5" ry="1.15" fill="#e2e2e2"/>
<ellipse cx="340.2" cy="527" rx="4.5" ry="2.8" fill="#2b2b2b"/>
<ellipse cx="341.7" cy="526.8" rx="1.8" ry="1.2" fill="#555"/>
<ellipse cx="343.4" cy="554.2" rx="4.5" ry="2.8" fill="#2b2b2b"/>
<ellipse cx="344.9" cy="554.0" rx="1.8" ry="1.2" fill="#555"/>
<ellipse cx="458.4" cy="525.4" rx="4.5" ry="2.8" fill="#2b2b2b"/>
<ellipse cx="459.9" cy="525.1999999999999" rx="1.8" ry="1.2" fill="#555"/>
<ellipse cx="462.6" cy="553.5" rx="4.5" ry="2.8" fill="#2b2b2b"/>
<ellipse cx="464.1" cy="553.3" rx="1.8" ry="1.2" fill="#555"/>
<ellipse cx="398" cy="504.5" rx="1.5" ry="0.9" fill="#262626"/>
<ellipse cx="262" cy="541" rx="1.5" ry="0.9" fill="#262626"/>
<ellipse cx="534" cy="539" rx="1.5" ry="0.9" fill="#262626"/>
</g>
<polygon points="594.2,123.0 561.3,138.8 562.8,135.0 555.2,144.2 567.1,143.1 563.1,142.2 594.6,123.8" fill="#e6262c"/>
<polygon points="78.6,311.8 103.9,320.2 100.2,322.0 112.0,320.5 102.6,313.1 104.9,316.6 78.8,310.8" fill="#e6262c"/>
<polygon points="618.7,288.3 594.5,307.1 595.1,303.1 589.7,313.7 601.1,310.1 597.0,310.0 619.3,289.1" fill="#e6262c"/>
<polygon points="87.4,521.8 113.4,492.8 113.5,496.9 117.0,485.5 106.4,491.0 110.5,490.4 86.6,521.2" fill="#e6262c"/>
<polygon points="566.8,442.9 516.5,405.3 520.5,404.9 508.9,402.3 515.2,412.4 514.3,408.4 566.2,443.7" fill="#e6262c"/>
<polygon points="607.4,522.0 547.0,527.2 549.7,524.1 539.3,529.9 550.7,533.3 547.4,530.9 607.6,523.0" fill="#e6262c"/>
</svg>
<div id="title">3D Design Drawing</div>
<div class="t" style="left:596.4px;top:109.7px">Upper cover</div>
<div class="t" style="left:587.2px;top:268.1px">Front panel</div>
<div class="t" style="left:38.1px;top:301.5px">WiFi</div>
<div class="t" style="left:512.1px;top:445.1px">Motherboard</div>
<div class="t" style="left:37.7px;top:518.7px">Back panel</div>
<div class="t" style="left:608.2px;top:513px">Lower cover</div>
</body></html>
